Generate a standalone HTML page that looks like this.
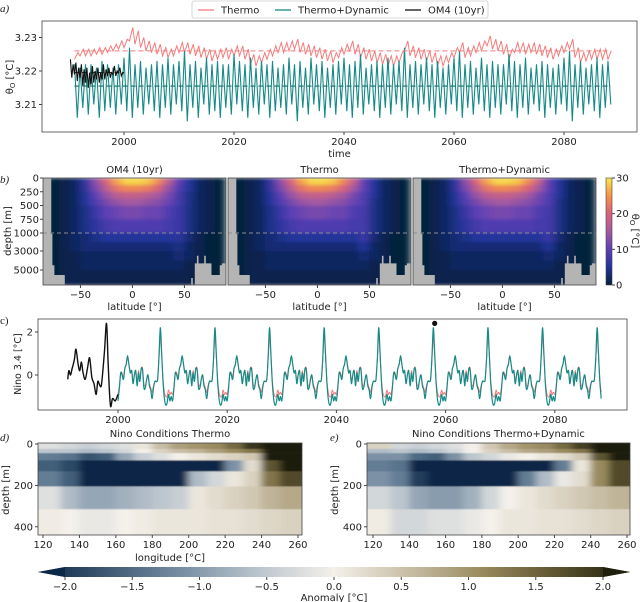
<!DOCTYPE html>
<html><head><meta charset="utf-8"><style>
html,body{margin:0;padding:0;background:#fff}
svg{display:block;font-family:"DejaVu Sans","Liberation Sans",sans-serif}
</style></head><body>
<svg id="fig" width="640" height="602" viewBox="0 0 640 602" xmlns="http://www.w3.org/2000/svg">
<defs>
<filter id="blurH" x="0" y="0" width="1" height="1"><feGaussianBlur stdDeviation="4 0.6" edgeMode="duplicate"/></filter>
<filter id="blurB" x="0" y="0" width="1" height="1"><feGaussianBlur stdDeviation="4 1.5" edgeMode="duplicate"/></filter>
<linearGradient id="gTherm" x1="0" y1="1" x2="0" y2="0">
<stop offset="0" stop-color="#04203a"/><stop offset="0.17" stop-color="#23349a"/><stop offset="0.33" stop-color="#5b3fb5"/><stop offset="0.5" stop-color="#a45aa0"/><stop offset="0.67" stop-color="#d8647a"/><stop offset="0.83" stop-color="#f5904a"/><stop offset="1" stop-color="#f7e64a"/></linearGradient>
<linearGradient id="gAnom" x1="0" y1="0" x2="1" y2="0">
<stop offset="0" stop-color="#0b2846"/><stop offset="0.25" stop-color="#7b91a6"/><stop offset="0.375" stop-color="#bcc6ce"/><stop offset="0.5" stop-color="#f4f0ea"/><stop offset="0.625" stop-color="#c8bea6"/><stop offset="0.75" stop-color="#9a8a5e"/><stop offset="0.875" stop-color="#5d5430"/><stop offset="1" stop-color="#1f1f0e"/></linearGradient>
</defs>
</svg>
<script>
// ---------- Panel a data ----------
const aYears=[];for(let y=1991;y<=2088;y++)aYears.push(y);
const thermoHi=[3.2255,3.2265,3.2265,3.2265,3.227,3.227,3.2275,3.228,3.229,3.2295,
3.233,3.232,3.230,3.229,3.2285,3.228,3.227,3.2265,3.2275,3.2285,
3.2285,3.228,3.2275,3.227,3.2265,3.226,3.2265,3.227,3.2265,3.2275,
3.2275,3.2265,3.225,3.2245,3.2255,3.2265,3.2275,3.2285,3.2285,3.229,
3.2295,3.2285,3.228,3.2275,3.227,3.2265,3.226,3.2255,3.227,3.228,
3.229,3.228,3.227,3.2265,3.226,3.2255,3.225,3.2245,3.2245,3.2255,
3.229,3.2275,3.227,3.2265,3.226,3.2255,3.2245,3.2245,3.2255,3.227,
3.2285,3.227,3.2275,3.2285,3.229,3.2305,3.2295,3.229,3.228,3.2265,
3.2285,3.2285,3.228,3.2285,3.228,3.2275,3.227,3.2265,3.2275,3.2285,
3.2295,3.227,3.2255,3.226,3.2265,3.2265,3.2265,3.226];
const thermoLo=[3.2235,3.2245,3.2245,3.2245,3.225,3.225,3.2255,3.226,3.2265,3.227,
3.229,3.228,3.227,3.226,3.2255,3.225,3.2245,3.224,3.2245,3.2255,
3.2255,3.225,3.2245,3.224,3.2235,3.223,3.2235,3.224,3.2235,3.2245,
3.2245,3.2235,3.222,3.2215,3.2225,3.2235,3.2245,3.2255,3.2255,3.226,
3.2265,3.2255,3.225,3.2245,3.224,3.2235,3.223,3.2225,3.224,3.225,
3.226,3.225,3.224,3.2235,3.223,3.2225,3.222,3.2215,3.2215,3.2225,
3.226,3.2245,3.224,3.2235,3.223,3.2225,3.2215,3.2215,3.2225,3.224,
3.2255,3.224,3.2245,3.2255,3.226,3.2275,3.2265,3.226,3.225,3.2235,
3.2255,3.2255,3.225,3.2255,3.225,3.2245,3.224,3.2235,3.2245,3.2255,
3.2265,3.224,3.2225,3.223,3.2235,3.2235,3.2235,3.2235];
const dynHi=[3.222,3.221,3.222,3.222,3.221,3.223,3.222,3.221,3.222,3.224,
3.227,3.222,3.223,3.221,3.222,3.223,3.222,3.224,3.222,3.223,
3.226,3.222,3.223,3.221,3.224,3.222,3.223,3.222,3.222,3.225,
3.223,3.222,3.224,3.221,3.223,3.222,3.223,3.221,3.222,3.224,
3.222,3.223,3.221,3.224,3.222,3.223,3.221,3.222,3.223,3.224,
3.222,3.223,3.225,3.221,3.222,3.223,3.222,3.224,3.222,3.223,
3.227,3.222,3.223,3.222,3.224,3.222,3.223,3.221,3.222,3.224,
3.226,3.222,3.223,3.221,3.224,3.222,3.223,3.222,3.222,3.225,
3.223,3.222,3.224,3.221,3.222,3.223,3.222,3.221,3.222,3.224,
3.226,3.222,3.223,3.221,3.222,3.224,3.222,3.223];
const dynLo=[3.206,3.209,3.207,3.210,3.206,3.208,3.209,3.207,3.210,3.208,
3.206,3.209,3.207,3.210,3.208,3.206,3.209,3.207,3.210,3.208,
3.205,3.209,3.206,3.210,3.207,3.208,3.206,3.209,3.207,3.210,
3.208,3.206,3.209,3.207,3.210,3.206,3.208,3.209,3.207,3.210,
3.205,3.209,3.207,3.210,3.208,3.206,3.209,3.207,3.210,3.208,
3.206,3.209,3.207,3.210,3.208,3.206,3.209,3.207,3.210,3.208,
3.206,3.209,3.207,3.210,3.208,3.206,3.209,3.207,3.210,3.208,
3.206,3.209,3.207,3.210,3.208,3.206,3.209,3.207,3.210,3.208,
3.206,3.209,3.207,3.210,3.208,3.206,3.209,3.207,3.210,3.208,
3.205,3.209,3.207,3.210,3.208,3.206,3.209,3.210];
const om4Years=[1991,1992,1993,1994,1995,1996,1997,1998,1999,2000];
const om4Hi=[3.2235,3.2225,3.222,3.221,3.2215,3.221,3.222,3.221,3.2215,3.221];
const om4Lo=[3.218,3.217,3.2155,3.215,3.2165,3.2165,3.2175,3.218,3.2185,3.2185];
const thermoMean=3.226, dynMean=3.2155;
const aYTicks=[3.21,3.22,3.23];
const aXTicks=[2000,2020,2040,2060,2080];

// ---------- Panel b data ----------
const latTicks=[-50,0,50];
const depthTicks=[0,250,500,750,1000,3000,5000];
const rowDepths=[0,125,250,375,500,750,1000,2000,3000,4000,5000,6500];
const latCenters=[-85,-75,-65,-55,-45,-35,-25,-15,-5,5,15,25,35,45,55,65,75,85];
const tempOM4=[
[0,0,1,2,6,13,20,26,29,29,28,24,17,10,5,2,1,0],
[0,0,1,2,6,12,17,22,24,24,23,20,14,9,5,2,1,0],
[0,0,1,2,5,10,14,17,18,18,17,15,12,8,4,2,1,0],
[0,0,1,2,5,9,12,14,15,15,14,13,11,8,4,2,1,0],
[0,0,1,2,4,7,10,11,12,12,11,11,9,7,4,2,1,0],
[0,0,1,2,4,6,8,9,9,9,9,9,8,7,4,2,1,0],
[0,0,1,2,3,4,5,5,5,5,5,5,5,6,3,1,0,0],
[0,0,1,2,3,3,3,3,3,3,3,3,3,4,2,1,0,0],
[0,0,1,1,2,2,2,2,2,2,2,2,2,3,2,1,0,0],
[0,0,1,1,2,2,2,2,2,2,2,2,2,2,1,1,0,0],
[0,0,1,1,1,1,1,1,1,1,1,1,1,1,1,0,0,0]];
const tempThermo=[
[0,0,1,2,6,13,20,26,29,29,28,24,18,10,5,2,1,0],
[0,0,1,2,6,12,17,22,24,24,23,20,15,10,5,2,1,0],
[0,0,1,2,5,10,14,17,18,18,17,15,12,9,5,2,1,0],
[0,0,1,2,5,9,12,14,15,15,14,13,11,9,4,2,1,0],
[0,0,1,2,4,7,10,11,12,12,11,11,9,8,4,2,1,0],
[0,0,1,2,4,6,8,9,9,9,9,9,8,8,4,2,1,0],
[0,0,1,2,3,4,5,5,5,5,5,5,5,7,3,1,0,0],
[0,0,1,2,3,3,3,3,3,3,3,3,3,5,2,1,0,0],
[0,0,1,1,2,2,2,2,2,2,2,2,2,3,2,1,0,0],
[0,0,1,1,2,2,2,2,2,2,2,2,2,2,1,1,0,0],
[0,0,1,1,1,1,1,1,1,1,1,1,1,1,1,0,0,0]];
const tempDyn=tempThermo;
const landLeft=[[-90,0],[-78,0],[-78,1100],[-77,1100],[-77,4500],[-75,4500],[-75,5500],[-65,5500],[-65,7000],[-90,7000]];
const landRight=[[60,7000],[60,4300],[62,4300],[62,3500],[63.5,3500],[63.5,4300],[69,4300],[69,3500],[70.5,3500],[70.5,4300],[76,4300],[76,5500],[84,5500],[84,4500],[86,4500],[86,4300],[92,4300],[92,7000]];
const landSliver=[[56.5,7000],[56.5,5800],[58,5800],[58,7000]];
const cbTicks=[0,10,20,30];

// ---------- Panel c data ----------
const ninoDecadeStart=[2000,2010,2020,2030,2040,2050,2060,2070,2080];
const ninoDynPattern=[-1.2,-0.6,0.1,0.0,-0.2,0.3,0.5,0.9,0.5,0.1,0.2,-0.4,0.0,0.2,-0.5,0.1,-0.3,0.3,0.2,-0.6,-0.6,-0.2,0.0,-0.5,-0.7,-1.1,-0.6,-0.3,-0.3,-0.2,0.8,2.2,1.0,-0.3,-1.1,-1.4,-1.3,-0.9,-1.2,-1.0];
const ninoThermoPattern=[-0.9,-0.5,0.1,0.1,-0.1,0.3,0.5,0.8,0.5,0.1,0.2,-0.3,0.0,0.2,-0.4,0.2,-0.2,0.3,0.3,-0.4,-0.5,-0.2,0.0,-0.4,-0.6,-0.8,-0.5,-0.3,-0.3,-0.2,0.7,1.8,0.9,-0.2,-0.8,-1.0,-1.0,-0.7,-0.9,-0.8];
const om4NinoYears=[1990.8,1991.0,1991.3,1991.6,1992.0,1992.3,1992.7,1993.0,1993.3,1993.6,1994.0,1994.4,1994.8,1995.2,1995.6,1996.0,1996.3,1996.7,1997.0,1997.5,1997.9,1998.2,1998.6,1999.0,1999.5,2000.0];
const om4Nino=[-0.2,0.2,0.0,0.3,0.7,1.2,0.5,0.2,0.6,0.1,-0.2,0.3,0.8,-0.1,-0.4,-0.9,-0.3,-0.5,-0.4,1.0,2.4,0.5,-1.4,-1.1,-1.2,-0.9];
const ninoMarkYear=[2058], ninoMarkVal=[2.4];
const cYTicks=[0,2];

// ---------- Panel d/e data ----------
const lonCenters=[125,135,145,155,165,175,185,195,205,215,225,235,245,255];
const anomDepths=[0,24,44,79,132,205,315,445];
const anomThermo=[
[-0.2,-0.3,-0.4,-0.3,-0.2,0.1,0.5,0.8,0.9,1.0,1.3,1.8,2.0,2.0],
[-0.5,-0.5,-0.6,-0.5,-0.3,0.0,0.3,0.5,0.6,0.8,1.0,1.2,2.2,2.2],
[-1.2,-1.3,-1.6,-1.5,-0.8,-0.4,-0.2,0.0,0.1,0.2,0.3,0.4,2.2,2.2],
[-1.5,-1.7,-2.2,-2.2,-2.2,-2.2,-2.2,-2.2,-2.2,-2.2,-1.0,0.2,1.5,2.0],
[-1.2,-1.5,-2.2,-2.2,-2.2,-2.2,-2.2,-2.2,-0.6,-0.3,0.1,0.3,1.2,1.6],
[-0.2,-0.6,-0.8,-0.8,-0.7,-0.6,-0.5,-0.4,0.1,0.2,0.3,0.4,0.6,0.7],
[0.05,0.0,-0.1,-0.1,0.0,0.05,0.1,0.1,0.1,0.15,0.15,0.2,0.25,0.3]];
const anomDyn=[
[0.3,-0.3,-0.4,-0.3,-0.2,0.0,0.4,0.7,0.9,1.0,1.3,1.7,2.0,2.0],
[-0.6,-0.5,-0.6,-0.5,-0.3,0.0,0.3,0.5,0.7,0.8,1.0,1.2,2.2,2.2],
[-1.0,-1.0,-1.4,-1.5,-1.0,-0.5,-0.3,-0.1,0.0,0.1,0.2,0.4,1.5,2.2],
[-1.2,-1.3,-2.2,-2.2,-2.2,-2.2,-2.2,-2.2,-2.2,-2.2,-1.2,0.1,1.0,1.6],
[-1.0,-1.2,-1.8,-2.2,-2.2,-2.2,-2.2,-2.2,-1.2,-0.6,-0.1,0.2,1.0,1.6],
[-0.3,-0.5,-0.8,-0.9,-0.9,-0.7,-0.3,0.0,0.1,0.2,0.3,0.4,0.5,0.6],
[0.05,-0.3,-0.3,-0.2,-0.2,-0.1,0.0,0.1,0.1,0.15,0.15,0.2,0.25,0.3]];
const lonTicks=[120,140,160,180,200,220,240,260];
const anomDepthTicks=[0,200,400];
const anomCbTicks=[-2.0,-1.5,-1.0,-0.5,0.0,0.5,1.0,1.5,2.0];

// ---------- helpers ----------
const NS='http://www.w3.org/2000/svg';
const svg=document.getElementById('fig');
function el(tag,attrs,parent){const e=document.createElementNS(NS,tag);for(const k in attrs)e.setAttribute(k,attrs[k]);(parent||svg).appendChild(e);return e;}
function txt(s,x,y,opt,parent){const t=el('text',Object.assign({x:x,y:y,'font-size':10,fill:'#222'},opt||{}),parent);t.textContent=s;return t;}
function hex(c){return [parseInt(c.slice(1,3),16),parseInt(c.slice(3,5),16),parseInt(c.slice(5,7),16)];}
function cmap(stops,t){t=Math.max(0,Math.min(1,t));const n=stops.length-1;const i=Math.min(n-1,Math.floor(t*n));const f=t*n-i;const a=hex(stops[i]),b=hex(stops[i+1]);return 'rgb('+a.map((v,k)=>Math.round(v+(b[k]-v)*f)).join(',')+')';}
const thermStops=['#04203a','#23349a','#5b3fb5','#a45aa0','#d8647a','#f5904a','#f7e64a'];
const anomStops=['#0b2846','#425f7a','#7b91a6','#bcc6ce','#f4f0ea','#c8bea6','#9a8a5e','#5d5430','#1f1f0e'];
function smoothPath(pts){let d='M'+pts[0][0].toFixed(1)+','+pts[0][1].toFixed(1);for(let i=0;i<pts.length-1;i++){const p0=pts[i-1]||pts[i],p1=pts[i],p2=pts[i+1],p3=pts[i+2]||p2;const c1=[p1[0]+(p2[0]-p0[0])/6,p1[1]+(p2[1]-p0[1])/6],c2=[p2[0]-(p3[0]-p1[0])/6,p2[1]-(p3[1]-p1[1])/6];d+='C'+c1[0].toFixed(1)+','+c1[1].toFixed(1)+' '+c2[0].toFixed(1)+','+c2[1].toFixed(1)+' '+p2[0].toFixed(1)+','+p2[1].toFixed(1);}return d;}
function linePath(pts){return 'M'+pts.map(p=>p[0].toFixed(1)+','+p[1].toFixed(1)).join('L');}

// ---------- Panel a ----------
(function(){
const L=42,R=637,T=21,B=132;
const xA=y=>124+(y-2000)*5.5;
const yA=v=>71-(v-3.22)*3350;
const g=el('g',{});


const lab=txt('a)',0,12,{'font-style':'italic','font-family':'Liberation Serif, serif','font-size':11});

const cp=el('clipPath',{id:'clipA'});el('rect',{x:L,y:T,width:R-L,height:B-T},cp);
const plot=el('g',{'clip-path':'url(#clipA)'},g);
const tp=[];aYears.forEach((y,i)=>{tp.push([xA(y),yA(thermoLo[i])]);tp.push([xA(y+0.6),yA(thermoHi[i])]);});
const lt=el('path',{d:linePath(tp),fill:'none',stroke:'#f47c7c','stroke-width':1},plot);

const dp=[];aYears.forEach((y,i)=>{dp.push([xA(y),yA(dynHi[i])]);dp.push([xA(y+0.5),yA(dynLo[i])]);});
const ld=el('path',{d:linePath(dp),fill:'none',stroke:'#168a86','stroke-width':1.1},plot);

const op=[];om4Years.forEach((y,i)=>{op.push([xA(y-0.75),yA(om4Hi[i])]);op.push([xA(y-0.5),yA(om4Lo[i])]);op.push([xA(y-0.25),yA(om4Hi[i]-0.0015)]);op.push([xA(y),yA(om4Lo[i]+0.001)]);});
const lo=el('path',{d:linePath(op),fill:'none',stroke:'#111','stroke-width':1.1},plot);

const m1=el('line',{x1:xA(1991),x2:xA(2088.5),y1:yA(thermoMean),y2:yA(thermoMean),stroke:'#f47c7c','stroke-dasharray':'5,3','stroke-width':1},plot);

const m2=el('line',{x1:xA(1991),x2:xA(2088.5),y1:yA(dynMean),y2:yA(dynMean),stroke:'#0f6e6a','stroke-dasharray':'5,3','stroke-width':1.2},plot);

const m3=el('line',{x1:xA(1991),x2:xA(2000),y1:yA(3.2195),y2:yA(3.2195),stroke:'#111','stroke-dasharray':'5,3','stroke-width':1},plot);

const fr=el('rect',{x:L,y:T,width:R-L,height:B-T,fill:'none',stroke:'#444','stroke-width':0.8},g);

aYTicks.forEach(v=>{el('line',{x1:L-3,x2:L,y1:yA(v),y2:yA(v),stroke:'#444'},g);const t=txt(v.toFixed(2),L-5,yA(v)+3.5,{'text-anchor':'end'},g);});
aXTicks.forEach(v=>{el('line',{x1:xA(v),x2:xA(v),y1:B,y2:B+3,stroke:'#444'},g);const t=txt(String(v),xA(v),B+13,{'text-anchor':'middle'},g);});
const xl=txt('time',(L+R)/2,B+25,{'text-anchor':'middle'},g);
const yl=txt('θ',0,0,{'text-anchor':'middle',transform:'translate(13,77) rotate(-90)'},g);
const sub=el('tspan',{'font-size':7,dy:2},yl);sub.textContent='O';const rest=el('tspan',{dy:-2},yl);rest.textContent=' [°C]';

const lg=el('g',{},svg);
el('rect',{x:192,y:1,width:296,height:17,rx:2,fill:'#fff',stroke:'#ccc','stroke-width':0.8},lg);
const items=[['Thermo','#f47c7c',198],['Thermo+Dynamic','#168a86',275],['OM4 (10yr)','#111',405]];
items.forEach(it=>{const e=el('g',{},lg);el('line',{x1:it[2],x2:it[2]+16,y1:10,y2:10,stroke:it[1],'stroke-width':1.3},e);txt(it[0],it[2]+23,13.5,{},e);});
})();

// ---------- Panel b ----------
(function(){
const lab=txt('b)',0,183,{'font-style':'italic','font-family':'Liberation Serif, serif','font-size':11});

const T=178,B=285,W=183;
function yD(d){if(d<=1000)return T+d*0.055;if(d<=3000)return 233+(d-1000)*0.009;if(d<=5000)return 251+(d-3000)*0.0095;return 270+(d-5000)*0.01;}
const panels=[['OM4 (10yr)',43,tempOM4,'om4'],['Thermo',228,tempThermo,'thermo'],['Thermo+Dynamic',413,tempDyn,'thermo-dynamic']];
panels.forEach((p,pi)=>{
const L=p[1];const xL=lat=>L+(lat+86)*1.04;
const g=el('g',{});
const cp=el('clipPath',{id:'clipB'+pi});el('rect',{x:L,y:T,width:W,height:B-T},cp);
const cl=el('g',{'clip-path':'url(#clipB'+pi+')'},g);
const hm=el('g',{filter:'url(#blurB)'},cl);
el('rect',{x:L,y:T,width:W,height:B-T,fill:thermStops[0]},hm);
p[2].forEach((row,ri)=>{row.forEach((v,ci)=>{const c=el('rect',{x:xL(latCenters[ci]-5)-0.5,y:yD(rowDepths[ri]),width:xL(latCenters[ci]+5)-xL(latCenters[ci]-5)+1,height:yD(rowDepths[ri+1])-yD(rowDepths[ri])+0.5,fill:cmap(thermStops,v/30)},hm);
});});
[landLeft,landRight,landSliver].forEach(poly=>{const pg=el('polygon',{points:poly.map(q=>xL(q[0]).toFixed(1)+','+yD(Math.min(q[1],6500)).toFixed(1)).join(' '),fill:'#b4b4b4'},cl);});
el('line',{x1:L,x2:L+W,y1:yD(1000),y2:yD(1000),stroke:'#8a8f96','stroke-dasharray':'4,3','stroke-width':1},cl);
el('rect',{x:L,y:T,width:W,height:B-T,fill:'none',stroke:'#444','stroke-width':0.8},g);
const tt=txt(p[0],L+W/2,173,{'text-anchor':'middle'},g);
latTicks.forEach(v=>{el('line',{x1:xL(v),x2:xL(v),y1:B,y2:B+3,stroke:'#444'},g);const t=txt(v<0?'\u2212'+(-v):String(v),xL(v),B+13,{'text-anchor':'middle'},g);});
const xl=txt('latitude [°]',L+W/2,B+25,{'text-anchor':'middle'},g);
if(pi===0){depthTicks.forEach(d=>{el('line',{x1:L-3,x2:L,y1:yD(d),y2:yD(d),stroke:'#444'},g);const t=txt(String(d),L-4,yD(d)+3.5,{'text-anchor':'end'},g);});
const yl=txt('depth [m]',0,0,{'text-anchor':'middle',transform:'translate(11,231) rotate(-90)'},g);}
});
const cb=el('g',{});
el('rect',{x:606,y:T,width:6,height:B-T,fill:'url(#gTherm)',stroke:'#444','stroke-width':0.6},cb);
cbTicks.forEach(v=>{const y=B-(v/30)*(B-T);el('line',{x1:612,x2:615,y1:y,y2:y,stroke:'#444'},cb);txt(String(v),616,y+3.5,{},cb);});
const cl=txt('θ',0,0,{'text-anchor':'middle',transform:'translate(632,231) rotate(90)'},cb);const s=el('tspan',{'font-size':7,dy:2},cl);s.textContent='O';const r=el('tspan',{dy:-2},cl);r.textContent=' [°C]';
})();

// ---------- Panel c ----------
(function(){
const L=38,R=627,T=319,B=410;
const xC=y=>118+(y-2000)*5.46;
const yC=v=>375-v*21.5;
const g=el('g',{});
const lab=txt('c)',0,324,{'font-family':'Liberation Serif, serif','font-size':11});
const redPts=[],tealPts=[];
ninoDecadeStart.forEach(d0=>{ninoThermoPattern.forEach((v,i)=>{const y=d0+i*0.25;if(y<=2088.5)redPts.push([xC(y),yC(v)]);});ninoDynPattern.forEach((v,i)=>{const y=d0+i*0.25;if(y<=2088.5)tealPts.push([xC(y),yC(v)]);});});
const lr=el('path',{d:smoothPath(redPts),fill:'none',stroke:'#f47c7c','stroke-width':1},g);
const lt=el('path',{d:smoothPath(tealPts),fill:'none',stroke:'#168a86','stroke-width':1.2},g);
const bp=om4NinoYears.map((y,i)=>[xC(y),yC(om4Nino[i])]);
const lb=el('path',{d:smoothPath(bp),fill:'none',stroke:'#111','stroke-width':1.4},g);
ninoMarkYear.forEach((y,i)=>{const c=el('circle',{cx:xC(y),cy:yC(ninoMarkVal[i]),r:2.6,fill:'#111'},g);});
el('rect',{x:L,y:T,width:R-L,height:B-T,fill:'none',stroke:'#444','stroke-width':0.8},g);
cYTicks.forEach(v=>{el('line',{x1:L-3,x2:L,y1:yC(v),y2:yC(v),stroke:'#444'},g);const t=txt(String(v),L-5,yC(v)+3.5,{'text-anchor':'end'},g);});
aXTicks.forEach(v=>{el('line',{x1:xC(v),x2:xC(v),y1:B,y2:B+3,stroke:'#444'},g);const t=txt(String(v),xC(v),B+13,{'text-anchor':'middle'},g);});
const yl=txt('Nino 3.4 [°C]',0,0,{'text-anchor':'middle',transform:'translate(21,364) rotate(-90)','font-size':9.5},g);
})();

// ---------- Panels d/e ----------
(function(){
const T=443,B=535;
const yD=d=>444+d*0.207;
const panels=[['Nino Conditions Thermo',38,302,43,298,anomThermo,'d)',0,'nino-thermo'],['Nino Conditions Thermo+Dynamic',367,630,373,627,anomDyn,'e)',330,'nino-thermo-dynamic']];
panels.forEach((p,pi)=>{
const L=p[1],R=p[2];const xL=lon=>p[3]+(lon-120)*(p[4]-p[3])/140;
const g=el('g',{});
const lab=txt(p[6],p[7],441,{'font-style':'italic','font-family':'Liberation Serif, serif','font-size':11},g);
const cp=el('clipPath',{id:'clipD'+pi});el('rect',{x:L,y:T,width:R-L,height:B-T},cp);
const cl=el('g',{'clip-path':'url(#clipD'+pi+')'},g);
const hm=el('g',{filter:'url(#blurH)'},cl);
p[5].forEach((row,ri)=>{row.forEach((v,ci)=>{const x0=ci===0?L-10:xL(lonCenters[ci]-5);const x1=ci===row.length-1?R+10:xL(lonCenters[ci]+5);
const c=el('rect',{x:x0-0.3,y:yD(anomDepths[ri])-(ri===0?3:0),width:x1-x0+0.6,height:yD(anomDepths[ri+1])-yD(anomDepths[ri])+(ri===0?3:0)+0.3,fill:cmap(anomStops,(v+2)/4)},hm);
});});
el('rect',{x:L,y:T,width:R-L,height:B-T,fill:'none',stroke:'#444','stroke-width':0.8},g);
const tt=txt(p[0],(L+R)/2,437,{'text-anchor':'middle'},g);
lonTicks.forEach(v=>{el('line',{x1:xL(v),x2:xL(v),y1:B,y2:B+3,stroke:'#444'},g);const t=txt(String(v),xL(v),B+13,{'text-anchor':'middle'},g);});
anomDepthTicks.forEach(d=>{el('line',{x1:L-3,x2:L,y1:yD(d),y2:yD(d),stroke:'#444'},g);const t=txt(String(d),L-5,yD(d)+3.5,{'text-anchor':'end'},g);});
const yl=txt('depth [m]',0,0,{'text-anchor':'middle',transform:'translate('+(L-29)+',490) rotate(-90)'},g);
if(pi===0){const xl=txt('longitude [°C]',(L+R)/2,B+26,{'text-anchor':'middle'},g);}
});
const xC=v=>334+v*134.5;
const cb=el('g',{});
el('polygon',{points:xC(-2)+',567 '+xC(2)+',567 630,572 '+xC(2)+',577 '+xC(-2)+',577 38,572',fill:'url(#gAnom)'},cb);
el('polygon',{points:xC(-2)+',567 38,572 '+xC(-2)+',577',fill:'#0b2846'},cb);
el('polygon',{points:xC(2)+',567 630,572 '+xC(2)+',577',fill:'#1f1f0e'},cb);
anomCbTicks.forEach(v=>{el('line',{x1:xC(v),x2:xC(v),y1:577,y2:580,stroke:'#444'},cb);txt((v<0?'\u2212':'')+Math.abs(v).toFixed(1),xC(v),590,{'text-anchor':'middle'},cb);});
const al=txt('Anomaly [°C]',334,601,{'text-anchor':'middle'},cb);
})();
</script>
</body></html>
